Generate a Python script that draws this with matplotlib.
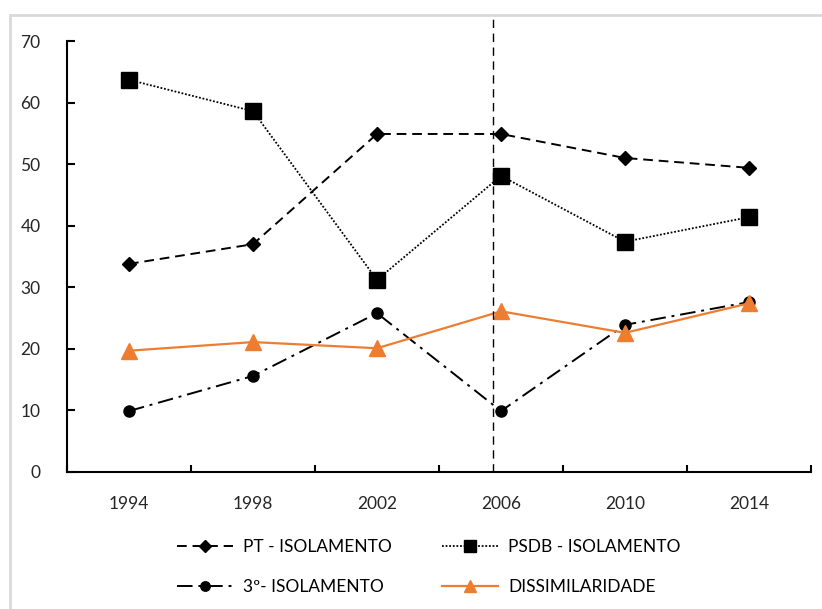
import numpy as np
import matplotlib.pyplot as plt
from matplotlib.patches import Rectangle

anos = ["1994", "1998", "2002", "2006", "2010", "2014"]
pt = [33.8, 37.0, 54.9, 54.9, 51.0, 49.4]
psdb = [63.7, 58.6, 31.2, 48.1, 37.4, 41.4]
terceiro = [9.9, 15.6, 25.8, 9.9, 23.9, 27.6]
dissim = [19.7, 21.1, 20.1, 26.1, 22.6, 27.4]

plt.rcParams['font.family'] = ['Lato', 'DejaVu Sans']

fig = plt.figure(figsize=(8.22, 6.09), dpi=100)
ax = fig.add_axes([67/822, 137/609, 744/822, 431/609])

# moldura cinza
fig.patches.append(Rectangle((10/822, -0.1), 1.0, (609-15)/609 + 0.1, transform=fig.transFigure,
                             fill=False, edgecolor="#d9d9d9", linewidth=2))

x = np.arange(len(anos))
l1, = ax.plot(x, pt, linestyle=(0, (5, 3)), color="black", linewidth=1.4, marker="D",
              markersize=7, label="PT - ISOLAMENTO")
l2, = ax.plot(x, psdb, linestyle=(0, (1, 1)), color="black", linewidth=1.3, marker="s",
              markersize=11, label="PSDB - ISOLAMENTO")
l3, = ax.plot(x, terceiro, linestyle=(0, (8, 3, 1.5, 3)), color="black", linewidth=1.4, marker="o",
              markersize=8, label="3º- ISOLAMENTO")
l4, = ax.plot(x, dissim, linestyle="-", color="#ED7D31", linewidth=1.6, marker="^",
              markersize=11, label="DISSIMILARIDADE")

# linha vertical tracejada
ax.axvline(2.935, ymin=0, ymax=(472-15)/431, color="black", linewidth=1,
           linestyle=(0, (6, 4)), clip_on=False)

ax.set_xlim(-0.5, 5.5)
ax.set_ylim(0, 70)
ax.set_yticks(np.arange(0, 71, 10))
ax.set_xticks(np.arange(-0.5, 5.6, 1))
ax.set_xticklabels([])
ax.set_xticks(x, minor=True)
ax.set_xticklabels(anos, minor=True)
ax.tick_params(axis="x", which="major", direction="in", length=5, width=1.5)
ax.tick_params(axis="x", which="minor", length=0, pad=17, labelsize=12.5, labelcolor="#262626")
ax.tick_params(axis="y", direction="in", length=6, width=1.5, pad=19, labelsize=12.5,
               labelcolor="#262626")

for s in ["top", "right"]:
    ax.spines[s].set_visible(False)
ax.spines["left"].set_linewidth(1.5)
ax.spines["bottom"].set_linewidth(1.5)

# ordem por linhas: PT, PSDB / 3º, DISSIMILARIDADE
fig.legend([l1, l3, l2, l4], [l.get_label() for l in [l1, l3, l2, l4]],
           loc="center", bbox_to_anchor=(0.522, 0.069), ncol=2, frameon=False,
           fontsize=12.5, handlelength=3.2, columnspacing=2.9, labelspacing=1.35,
           handletextpad=0.6, markerscale=0.85)

plt.savefig("out.png", dpi=100)
